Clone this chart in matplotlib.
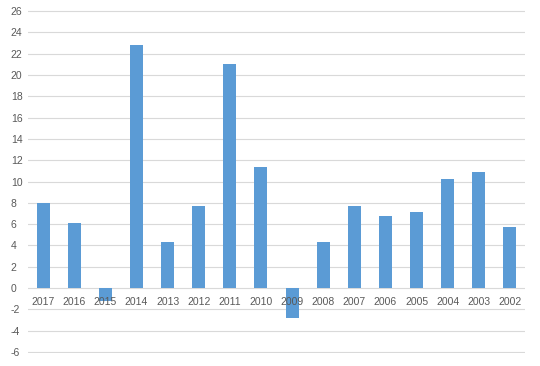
import matplotlib
matplotlib.use('Agg')
import matplotlib.pyplot as plt

years = ['2017', '2016', '2015', '2014', '2013', '2012', '2011', '2010',
         '2009', '2008', '2007', '2006', '2005', '2004', '2003', '2002']
values = [8.0, 6.1, -1.2, 22.8, 4.3, 7.7, 21.0, 11.4,
          -2.8, 4.3, 7.7, 6.8, 7.1, 10.2, 10.9, 5.7]
yticks = list(range(-6, 27, 2))

plt.rcParams['font.family'] = ['Liberation Sans', 'DejaVu Sans']

fig = plt.figure(figsize=(5.4, 3.66), dpi=100)
ax = fig.add_axes([0.051, 0.036, 0.922, 0.936])

x = list(range(len(years)))
ax.bar(x, values, width=0.42, color='#5B9BD5', zorder=3)

ax.set_xlim(-0.5, len(years) - 0.5)
ax.set_ylim(-6.08, 26.08)
ax.set_yticks(yticks)
ax.set_yticklabels([str(t) for t in yticks], fontsize=7.5, color='#595959')
ax.grid(axis='y', color='#D9D9D9', linewidth=0.8, zorder=0)
ax.tick_params(axis='y', length=0, pad=12)
for lab in ax.get_yticklabels():
    lab.set_horizontalalignment('left')
ax.set_xticks([])
for s in ax.spines.values():
    s.set_visible(False)

for i, yr in enumerate(years):
    ax.annotate(yr, (i, 0), xytext=(0, -10), textcoords='offset points',
                ha='center', va='center', fontsize=7.5, color='#595959', zorder=4)

fig.savefig('out.png', dpi=100)
